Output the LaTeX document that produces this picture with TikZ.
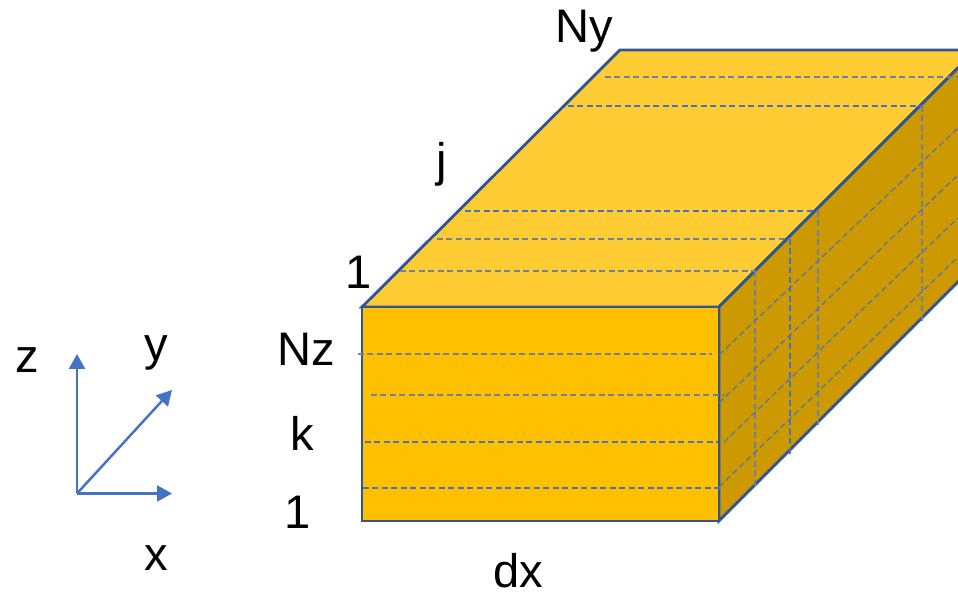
\documentclass[tikz,border=0pt]{standalone}
\usepackage{xcolor}
\usepackage{fontspec}
\setmainfont{Liberation Sans}
\usetikzlibrary{arrows.meta}
\definecolor{frontface}{HTML}{FFC000}
\definecolor{topface}{HTML}{FFCC33}
\definecolor{sideface}{HTML}{CC9900}
\definecolor{boxedge}{HTML}{2F5597}
\definecolor{axisblue}{HTML}{4472C4}
\definecolor{gridgrey}{HTML}{70819B}
\tikzset{
  boxface/.style={draw=boxedge,line width=0.8pt,line join=miter},
  gridline/.style={draw=axisblue,line width=0.3pt,dash pattern=on 1.7pt off 1pt},
  gridlinegrey/.style={draw=gridgrey,line width=0.4pt,dash pattern=on 1.7pt off 1pt},
  axisline/.style={draw=axisblue,line width=0.7pt,-{Triangle[length=0.15cm,width=0.16cm]}},
  axislabel/.style={font=\fontsize{13.4}{16}\selectfont,color=black,inner sep=0pt},
}

\begin{document}
\begin{tikzpicture}
      \useasboundingbox (0,0) rectangle (9.58,5.93);
      \clip (0,0) rectangle (9.58,5.93);
      % box corners
      \coordinate (frontsw) at(3.62,0.72);
      \coordinate (frontse) at(7.19,0.72);
      \coordinate (frontne) at(7.19,2.86);
      \coordinate (frontnw) at(3.62,2.86);
      \coordinate (backnw)  at(6.20,5.43);
      \coordinate (backne)  at(9.76,5.43);
      \coordinate (backse)  at(9.76,3.29);
      % faces
      \draw[boxface,fill=topface]   (frontnw) -- (backnw) -- (backne) -- (frontne) -- cycle;
      \draw[boxface,fill=sideface]  (frontse) -- (backse) -- (backne) -- (frontne) -- cycle;
      \draw[boxface,fill=frontface] (frontsw) rectangle (frontne);
      % top face
      \draw[gridlinegrey] (6.05,5.16) -- (9.58,5.16);
      \draw[gridline]     (5.68,4.87) -- (9.22,4.87);
      \draw[gridline]     (4.65,3.82) -- (8.17,3.82);
      \draw[gridlinegrey] (4.37,3.54) -- (7.90,3.54);
      \draw[gridlinegrey] (4.00,3.22) -- (7.55,3.22);
      % front face
      \draw[gridlinegrey] (3.58,2.39) -- (7.12,2.39);
      \draw[gridlinegrey] (3.71,1.98) -- (7.25,1.98);
      \draw[gridline]     (3.65,1.51) -- (7.18,1.51);
      \draw[gridline]     (3.63,1.05) -- (7.20,1.05);
      % side face
      \draw[gridlinegrey] (7.55,3.22) -- (7.55,1.05);
      \draw[gridline]     (7.90,3.54) -- (7.90,1.39);
      \draw[gridlinegrey] (8.18,3.82) -- (8.18,1.68);
      \draw[gridlinegrey] (9.22,4.87) -- (9.22,2.70);
      \draw[gridline]     (7.19,2.38) -- (9.58,4.65);
      \draw[gridline]     (7.19,1.90) -- (9.58,4.18);
      \draw[gridline]     (7.24,1.51) -- (9.58,3.75);
      \draw[gridline]     (7.19,1.06) -- (9.58,3.36);
      % axes
      \coordinate (origin) at(0.77,0.995);
      \coordinate (ztip)   at(0.77,2.39);
      \coordinate (xtip)   at(1.72,0.995);
      \coordinate (ytip)   at(1.72,2.03);
      \draw[axisline] (origin) -- (ztip);
      \draw[axisline] (origin) -- (xtip);
      \draw[axisline] (origin) -- (ytip);
      % labels
      \node[axislabel] (zlabel)  at(0.27,2.33){z};
      \node[axislabel] (ylabel)  at(1.56,2.40){y};
      \node[axislabel] (xlabel)  at(1.56,0.35){x};
      \node[axislabel] (nylabel) at(5.84,5.62){Ny};
      \node[axislabel] (jlabel)  at(4.42,4.29){j};
      \node[axislabel] (jone)    at(3.59,3.21){1};
      \node[axislabel] (nzlabel) at(3.06,2.44){Nz};
      \node[axislabel] (klabel)  at(3.02,1.60){k};
      \node[axislabel] (kone)    at(2.98,0.81){1};
      \node[axislabel] (dxlabel) at(5.18,0.22){dx};
\end{tikzpicture}
\end{document}
